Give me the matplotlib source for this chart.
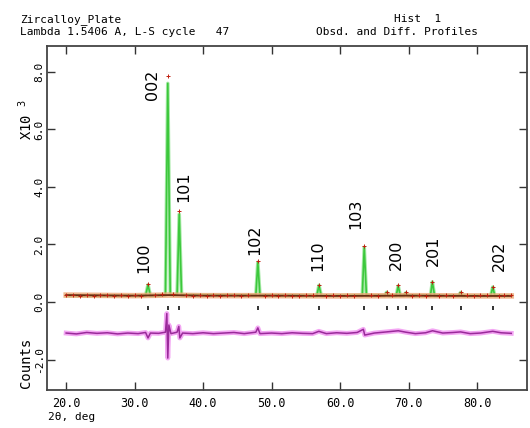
import matplotlib
matplotlib.use("Agg")
import matplotlib.pyplot as plt

# calculated profile (x10^3 counts)
tth_calc = [20.0, 31.6, 31.95, 32.3, 34.5, 34.84, 35.2, 36.2, 36.51, 36.85,
            47.7, 47.99, 48.3, 56.6, 56.92, 57.25, 63.25, 63.53, 63.85,
            66.5, 66.8, 67.1, 68.2, 68.49, 68.8, 69.3, 69.6, 69.9,
            73.2, 73.48, 73.8, 77.3, 77.6, 77.9, 82.0, 82.3, 82.6, 85.0]
i_calc = [0.22, 0.22, 0.60, 0.22, 0.24, 7.60, 0.26, 0.26, 3.05, 0.25,
          0.23, 1.38, 0.23, 0.22, 0.58, 0.22, 0.23, 1.90, 0.23,
          0.22, 0.34, 0.22, 0.22, 0.56, 0.22, 0.22, 0.32, 0.22,
          0.22, 0.70, 0.22, 0.22, 0.33, 0.22, 0.22, 0.52, 0.22, 0.22]

# observed points
tth_obs = [20.0, 21.0, 22.0, 23.0, 24.0, 25.0, 26.0, 27.0, 28.0, 29.0, 30.0,
           31.0, 31.95, 33.0, 34.0, 34.84, 35.6, 36.51, 37.5, 38.5, 39.5,
           40.5, 41.5, 42.5, 43.5, 44.5, 45.5, 46.5, 47.99, 49.0, 50.0, 51.0,
           52.0, 53.0, 54.0, 55.0, 56.0, 56.92, 58.0, 59.0, 60.0, 61.0, 62.0,
           63.53, 64.5, 65.5, 66.8, 67.6, 68.49, 69.6, 70.5, 71.5, 72.5,
           73.48, 74.5, 75.5, 76.5, 77.6, 78.5, 79.5, 80.5, 81.5, 82.3,
           83.2, 84.0, 85.0]
i_obs = [0.24, 0.26, 0.22, 0.25, 0.21, 0.24, 0.23, 0.20, 0.25, 0.22, 0.24,
         0.21, 0.62, 0.24, 0.27, 7.85, 0.27, 3.15, 0.23, 0.21, 0.25,
         0.22, 0.24, 0.20, 0.23, 0.25, 0.21, 0.24, 1.42, 0.22, 0.24, 0.21,
         0.25, 0.22, 0.20, 0.24, 0.23, 0.60, 0.21, 0.25, 0.22, 0.24, 0.21,
         1.93, 0.24, 0.20, 0.36, 0.23, 0.58, 0.33, 0.21, 0.25, 0.22,
         0.71, 0.22, 0.25, 0.21, 0.34, 0.24, 0.20, 0.23, 0.25, 0.53,
         0.22, 0.25, 0.23]

# background curve
tth_bkg = [20.0, 25.0, 30.0, 35.0, 40.0, 50.0, 60.0, 70.0, 80.0, 85.0]
i_bkg = [0.24, 0.23, 0.22, 0.24, 0.22, 0.22, 0.21, 0.22, 0.21, 0.21]

# difference curve (offset)
tth_diff = [20.0, 21.5, 23.0, 24.5, 26.0, 27.5, 29.0, 30.5, 31.6, 31.95, 32.3,
            33.5, 34.5, 34.7, 34.84, 35.0, 35.3, 36.2, 36.45, 36.6, 37.0,
            38.5, 40.0, 41.5, 43.0, 44.5, 46.0, 47.7, 47.99, 48.3, 50.0,
            51.5, 53.0, 54.5, 56.0, 56.9, 58.0, 59.5, 61.0, 62.5, 63.4, 63.6,
            65.0, 66.8, 68.5, 69.6, 71.0, 72.5, 73.5, 75.0, 76.5, 77.6, 79.0,
            80.5, 82.3, 83.5, 85.0]
i_diff = [-1.08, -1.11, -1.06, -1.09, -1.07, -1.11, -1.08, -1.10, -1.06, -1.25, -1.08,
          -1.09, -1.05, -0.40, -1.95, -0.80, -1.10, -1.05, -0.85, -1.25, -1.08,
          -1.10, -1.07, -1.10, -1.08, -1.06, -1.10, -1.05, -0.90, -1.10, -1.08,
          -1.10, -1.07, -1.09, -1.10, -1.02, -1.10, -1.07, -1.09, -1.06, -0.95, -1.15,
          -1.08, -1.04, -1.00, -1.05, -1.10, -1.07, -1.00, -1.08, -1.06, -1.04, -1.10,
          -1.08, -1.02, -1.07, -1.09]

# reflection positions
refl_pos = [31.95, 34.84, 36.51, 47.99, 56.92, 63.53, 66.8, 68.49, 69.6,
            73.48, 77.6, 82.3]

# hkl labels
hkl_text = ["100", "002", "101", "102", "110", "103", "200", "201", "202"]
hkl_x = [31.4, 32.6, 37.2, 47.5, 56.7, 62.3, 68.2, 73.6, 83.2]
hkl_y = [1.55, 7.55, 4.0, 2.17, 1.62, 3.05, 1.63, 1.77, 1.62]

x_ticks = [20, 30, 40, 50, 60, 70, 80]
y_ticks = [-2, 0, 2, 4, 6, 8]

mono = "DejaVu Sans Mono"

fig = plt.figure(figsize=(5.3, 4.28), dpi=100)
ax = fig.add_axes([47 / 530, 38 / 428, 480 / 530, 344 / 428])

ax.plot(tth_calc, i_calc, color="#a8eaa8", lw=2.6, zorder=1)
ax.plot(tth_calc, i_calc, color="#3cc83c", lw=1.2, zorder=2)
ax.plot(tth_bkg, i_bkg, color="#f0a878", lw=4.0, alpha=0.8, zorder=3)
ax.plot(tth_bkg, i_bkg, color="#6a2e12", lw=1.3, zorder=4)
ax.plot(tth_obs, i_obs, ls="none", marker="+", ms=2.5, mew=0.7,
        color="#c02010", zorder=5)

ax.plot(tth_diff, i_diff, color="#f090f0", lw=3.5, alpha=0.8, zorder=3)
ax.plot(tth_diff, i_diff, color="#9a2a9a", lw=1.1, zorder=4)

ax.vlines(refl_pos, -0.27, -0.13, color="#222222", lw=1.3, zorder=5)

for t, x, y in zip(hkl_text, hkl_x, hkl_y):
    ax.text(x, y, t, rotation=90, ha="center", va="center",
            fontsize=11.5, family="DejaVu Sans", zorder=6)

ax.set_xlim(17.2, 87.3)
ax.set_ylim(-3.06, 8.9)
ax.set_xticks(x_ticks)
ax.set_xticklabels(["%.1f" % v for v in x_ticks], family=mono, fontsize=8.5)
ax.set_yticks(y_ticks)
ax.set_yticklabels(["%.1f" % v for v in y_ticks], family=mono, fontsize=8,
                   rotation=90, va="center")
ax.tick_params(direction="in", length=6, width=1, color="#333333",
               top=True, right=True)
ax.tick_params(axis="x", pad=5)
ax.tick_params(axis="y", pad=2)
for s in ax.spines.values():
    s.set_linewidth(1.3)
    s.set_color("#444444")

fig.text(20 / 530, 1 - 22 / 428, "Zircalloy_Plate", family=mono, fontsize=8)
fig.text(20 / 530, 1 - 35 / 428, "Lambda 1.5406 A, L-S cycle   47",
         family=mono, fontsize=8)
fig.text(394 / 530, 1 - 22 / 428, "Hist  1", family=mono, fontsize=8)
fig.text(316 / 530, 1 - 35 / 428, "Obsd. and Diff. Profiles",
         family=mono, fontsize=8)
fig.text(48 / 530, 8 / 428, "2\u03b8, deg", family=mono, fontsize=8)
fig.text(26 / 530, 1 - 120 / 428, "X10 $^3$", family=mono, fontsize=10,
         rotation=90, ha="center", va="center")
fig.text(26 / 530, 1 - 363 / 428, "Counts", family=mono, fontsize=10,
         rotation=90, ha="center", va="center")

fig.savefig("out.png", dpi=100)
